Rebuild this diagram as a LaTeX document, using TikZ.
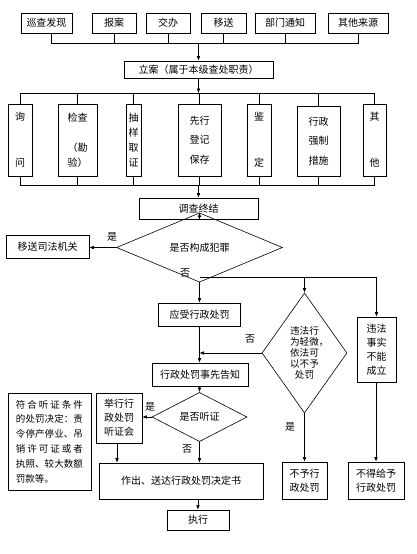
\documentclass[tikz,border=0pt]{standalone}
\usepackage{fontspec}
\newfontfamily\cjk{Noto Sans CJK SC}
\usetikzlibrary{shapes.geometric,arrows.meta}
\begin{document}
\begin{tikzpicture}[x=1pt,y=-1pt,
  box/.style={draw, line width=0.6pt, inner sep=0pt, align=center, font=\cjk\fontsize{10}{15}\selectfont},
  tbox/.style={box, font=\cjk\fontsize{10}{14}\selectfont},
  dia/.style={diamond, draw, line width=0.6pt, inner sep=0pt, align=center, font=\cjk\fontsize{10}{11}\selectfont},
  lbl/.style={inner sep=0pt, font=\cjk\fontsize{10}{12}\selectfont},
  ln/.style={line width=0.6pt},
  arr/.style={line width=0.6pt, -{Latex[length=4.5pt,width=3.6pt]}}]
\useasboundingbox (0,0) rectangle (416,554);
% sources
\node[box, minimum width=51pt, minimum height=20pt] (s1) at (46.5,23) {巡查发现};
\node[box, minimum width=44pt, minimum height=20pt] (s2) at (114,23) {报案};
\node[box, minimum width=44pt, minimum height=20pt] (s3) at (168,23) {交办};
\node[box, minimum width=45pt, minimum height=20pt] (s4) at (223.5,23) {移送};
\node[box, minimum width=60pt, minimum height=20pt] (s5) at (285,23) {部门通知};
\node[box, minimum width=60pt, minimum height=20pt] (s6) at (358,23) {其他来源};
\coordinate (bus1) at (198.5,43);
\node[box, minimum width=149pt, minimum height=17pt] (la) at (198.5,69.5) {立案（属于本级查处职责）};
% investigation measures
\coordinate (bus2) at (198.5,93);
\node[box, minimum width=24pt, minimum height=72pt] (m1) at (20,140) {询\\[31pt]问};
\node[box, minimum width=39pt, minimum height=72pt] (m2) at (77.5,140) {检查\\[15pt]（勘\\验）};
\node[box, minimum width=15pt, minimum height=72pt] (m3) at (133.5,140) {抽\\样\\取\\证};
\node[box, minimum width=43pt, minimum height=72pt] (m4) at (199.5,140) {先行\\[4.5pt]登记\\[4.5pt]保存};
\node[box, minimum width=24pt, minimum height=72pt] (m5) at (259,140) {鉴\\[31pt]定};
\node[box, minimum width=43pt, minimum height=70pt] (m6) at (318.5,141) {行政\\[4.5pt]强制\\[4.5pt]措施};
\node[box, minimum width=23pt, minimum height=72pt] (m7) at (374.5,140) {其\\[31pt]他};
\coordinate (bus3) at (198.5,185);
\node[box, minimum width=119pt, minimum height=21pt] (dc) at (198.5,208.5) {调查终结};
\node[dia, minimum width=166pt, minimum height=31pt] (d1) at (199.5,247.5) {是否构成犯罪};
\node[box, minimum width=83pt, minimum height=23pt] (ys) at (47.5,246.5) {移送司法机关};
\coordinate (br) at (199.5,277);
\node[box, minimum width=82pt, minimum height=23pt] (yc) at (199.5,314.5) {应受行政处罚};
\node[dia, minimum width=85pt, minimum height=120pt, font=\cjk\fontsize{9.6}{11}\selectfont] (d2) at (304.5,353) {违法行\\为轻微\rlap{，}\\依法可\\以不予\\处罚};
\node[tbox, minimum width=39pt, minimum height=65pt] (wf) at (376.5,349.5) {违法\\事实\\不能\\成立};
\node[box, minimum width=96pt, minimum height=23pt] (gz) at (200,374.5) {行政处罚事先告知};
\node[dia, minimum width=95pt, minimum height=42pt] (d3) at (199.5,417) {是否听证};
\node[tbox, minimum width=46pt, minimum height=50pt] (jx) at (119,418) {举行行\\政处罚\\听证会};
\node[box, minimum width=83pt, minimum height=97pt, align=left, font=\cjk\fontsize{9.5}{14.8}\selectfont] (lb) at (49.5,441.5)
  {\makebox[67pt][s]{符\hfil 合\hfil 听\hfil 证\hfil 条\hfil 件}\\
   \makebox[67pt][s]{的\hfil 处\hfil 罚\hfil 决\hfil 定\hfil ：\hfil 责}\\
   \makebox[67pt][s]{令\hfil 停\hfil 产\hfil 停\hfil 业\hfil 、\hfil 吊}\\
   \makebox[67pt][s]{销\hfil 许\hfil 可\hfil 证\hfil 或\hfil 者}\\
   \makebox[67pt][s]{执\hfil 照\hfil 、\hfil 较\hfil 大\hfil 数\hfil 额}\\
   罚款等。};
\node[box, minimum width=164pt, minimum height=36pt] (zc) at (181,481) {作出、送达行政处罚决定书};
\node[box, minimum width=62pt, minimum height=20pt] (zx) at (198,520) {执行};
\node[tbox, minimum width=45pt, minimum height=37pt] (by) at (304.5,480.5) {不予行\\政处罚};
\node[tbox, minimum width=56pt, minimum height=37pt] (bd) at (376,480.5) {不得给予\\行政处罚};
% labels
\node[lbl] (l1) at (112,237) {是};
\node[lbl] (l2) at (185,273) {否};
\node[lbl] (l3) at (250,339) {否};
\node[lbl] (l4) at (150,407) {是};
\node[lbl] (l5) at (187,449) {否};
\node[lbl] (l6) at (290,427) {是};
% connectors: sources
\draw[ln] ([xshift=5pt]s1.south) -- ([xshift=5pt]s1.south |- bus1) -- (s6.south |- bus1) -- (s6.south);
\foreach \n in {s2,s3,s4,s5} \draw[ln] (\n.south) -- (\n.south |- bus1);
\draw[arr] (bus1) -- (la.north);
% measures
\draw[arr] (la.south) -- (bus2);
\draw[ln] (m1.north) -- (m1.north |- bus2) -- (m7.north |- bus2) -- (m7.north);
\foreach \n in {m2,m3,m4,m5,m6} \draw[ln] (\n.north) -- (\n.north |- bus2);
\draw[ln] (m1.south) -- (m1.south |- bus3) -- (m7.south |- bus3) -- (m7.south);
\foreach \n in {m2,m3,m4,m5,m6} \draw[ln] (\n.south) -- (\n.south |- bus3);
\draw[arr] (bus3) -- (dc.north);
\draw[arr] (dc.south -| d1.north) -- (d1.north);
\draw[arr] (d1.west) -- (d1.west -| ys.east);
\draw[arr] (d1.south) -- (yc.north);
\draw[ln] (br) -- (br -| wf.north);
\draw[arr] (br -| d2.north) -- (d2.north);
\draw[arr] (br -| wf.north) -- (wf.north);
\draw[arr] (yc.south) -- (yc.south |- gz.north);
\draw[arr] (d2.west) -- (d2.west -| yc.south);
\draw[arr] (d2.south) -- (by.north);
\draw[arr] (wf.south -| bd.north) -- (bd.north);
\draw[arr] (gz.south -| d3.north) -- (d3.north);
\draw[arr] (d3.west) -- (d3.west -| jx.east);
\draw[arr] (d3.south) -- (d3.south |- zc.north);
\draw[arr] ([xshift=-2pt]jx.south) -- ([xshift=-2pt]jx.south |- zc.north);
\draw[arr] (zx.north |- zc.south) -- (zx.north);
\end{tikzpicture}
\end{document}
